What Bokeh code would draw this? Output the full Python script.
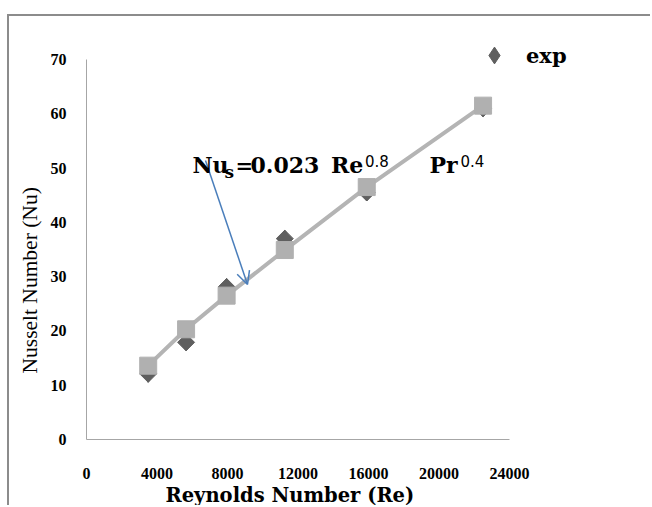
from bokeh.plotting import figure
from bokeh.models import Range1d, Legend, LegendItem, Label, Arrow, OpenHead, FixedTicker, Title
from bokeh.embed import file_html
from bokeh.resources import INLINE

# ---- data ----
re_vals = [3500, 5650, 7950, 11250, 15900, 22500]
nu_exp = [12.1, 17.9, 28.1, 37.0, 45.5, 61.0]
nu_corr = [13.6, 20.3, 26.5, 34.9, 46.5, 61.5]
x_ticks = [0, 4000, 8000, 12000, 16000, 20000, 24000]
y_ticks = [0, 10, 20, 30, 40, 50, 60, 70]
x_max, y_max = 24000, 70
legend_label = "exp"
x_title = "Reynolds Number (Re)"
y_title = "Nusselt Number (Nu)"

# frame is a bit larger than the drawn axes (room for legend / equation)
x_end = x_max * 504 / 423
y_end = y_max * 407 / 380

p = figure(width=643, height=491, output_backend="svg", toolbar_location=None,
           x_range=Range1d(0, x_end), y_range=Range1d(0, y_end),
           min_border_left=77, min_border_right=62, min_border_top=16, min_border_bottom=68)
# picture border (left and top edges) of the original image
p.styles = {"border-top": "2px solid #8c8c8c", "border-left": "2px solid #8c8c8c",
            "transform": "translate(7px, 14px)"}
p.outline_line_color = None
p.grid.visible = False
p.background_fill_color = "white"
p.border_fill_color = "white"

for ax in (p.xaxis[0], p.yaxis[0]):
    ax.axis_line_color = "#a6a6a6"
    ax.axis_line_width = 1
    ax.major_tick_line_color = None
    ax.minor_tick_line_color = None
    ax.major_label_text_font = "Liberation Serif"
    ax.major_label_text_font_style = "bold"
    ax.major_label_text_font_size = "16px"
    ax.major_label_text_color = "black"

p.xaxis.ticker = FixedTicker(ticks=x_ticks)
p.yaxis.ticker = FixedTicker(ticks=y_ticks)
p.xaxis.bounds = (0, x_max)
p.yaxis.bounds = (0, y_max)
p.xaxis.major_label_standoff = 22
p.yaxis.major_label_standoff = 14

# axis titles as side titles, offset to sit under / beside the drawn axes
p.add_layout(Title(text=x_title, align="left", offset=79, standoff=0,
                   text_font="DejaVu Serif", text_font_style="bold",
                   text_font_size="19.5px", text_color="black"), "below")
p.add_layout(Title(text=y_title, align="left", offset=66, standoff=11,
                   text_font="Liberation Serif", text_font_style="normal",
                   text_font_size="21.5px", text_color="black"), "left")

# series: exp drawn as a diamond (hidden under the rotated square), then the correlation
r_leg = p.scatter(re_vals, nu_exp, marker="diamond", size=17,
                  fill_color="#5f5f5f", line_color="#5f5f5f")
p.scatter(re_vals, nu_exp, marker="square", angle=0.785398, size=12,
          fill_color="#5f5f5f", line_color="#5f5f5f")
p.line(re_vals, nu_corr, line_color="#b4b4b4", line_width=4)
p.scatter(re_vals, nu_corr, marker="square", size=17, fill_color="#b0b0b0", line_color="#b0b0b0")

legend = Legend(items=[LegendItem(label=legend_label, renderers=[r_leg])],
                location=(387, 363), padding=0, margin=0, spacing=0,
                glyph_width=42, glyph_height=42, label_standoff=11, label_height=42,
                label_text_font="DejaVu Serif", label_text_font_style="bold",
                label_text_font_size="21px", label_text_color="black",
                background_fill_alpha=0, border_line_color=None)
p.add_layout(legend, "center")

# arrow
p.add_layout(Arrow(end=OpenHead(size=13, line_color="#4a7ebb", line_width=1.5),
                   x_start=6752, y_start=51.4, x_end=9135, y_end=28.55,
                   line_color="#4a7ebb", line_width=1.5))

# equation text
def lab(x, y, t, font, size, bold=True):
    p.add_layout(Label(x=x, y=y, text=t, text_font=font, text_font_size=size,
                       text_font_style="bold" if bold else "normal",
                       text_color="black", text_baseline="alphabetic", text_align="left"))

lab(6014, 50.5, "Nu", "DejaVu Serif", "22px")
lab(7830, 49.2, "s", "DejaVu Serif", "17px")
lab(8460, 50.5, "=", "DejaVu Serif", "21px")
lab(9300, 50.5, "0.023", "DejaVu Serif", "22px")
lab(13870, 50.5, "Re", "DejaVu Serif", "22px")
lab(15800, 51.24, "0.8", "DejaVu Sans", "15px", bold=False)
lab(19461, 50.5, "Pr", "DejaVu Serif", "22px")
lab(21220, 51.24, "0.4", "DejaVu Sans", "15px", bold=False)

open("out.html", "w").write(file_html(p, INLINE))
